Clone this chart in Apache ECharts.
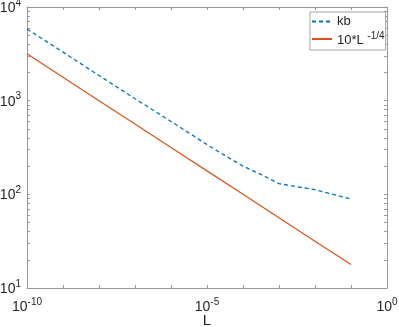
<!DOCTYPE html>
<html><head><meta charset="utf-8">
<script src="https://cdn.jsdelivr.net/npm/echarts@6/dist/echarts.min.js"></script>
<style>html,body{margin:0;padding:0;background:#fff}#c{width:399px;height:327px}</style>
</head><body><div id="c"></div>
<script>
// ---- data ----
const kbL = [1e-10, 1e-9, 1e-8, 1e-7, 1e-6, 1e-5, 3.16e-5, 1e-4, 3.16e-4, 1e-3, 1e-2, 1e-1];
const kbValues = [5820, 3300, 1855, 1050, 600, 340, 259, 200, 163, 130, 112, 89.3];
const refL = [1e-10, 1e-9, 1e-8, 1e-7, 1e-6, 1e-5, 1e-4, 1e-3, 1e-2, 1e-1];
const refValues = [3162, 1778, 1000, 562, 316, 178, 100, 56.2, 31.6, 17.8];
const seriesNames = ['kb', '10*L^-1/4'];
const xTickExponents = [-10, -9, -8, -7, -6, -5, -4, -3, -2, -1, 0];
const xLabelExponents = [-10, -5, 0];
const yDecadeExponents = [1, 2, 3];
const yLabelExponents = [1, 2, 3, 4];
const mantissas = [1, 2, 3, 4, 5, 6, 7, 8, 9];
const xName = 'L';

// ---- build ----
const FONT = 'Liberation Sans, Arial, Helvetica, sans-serif';
const TXT = '#262626';
const AX = '#999999';
const yTicks = [];
yDecadeExponents.forEach(e => mantissas.forEach(m => yTicks.push(e + Math.log10(m))));
yTicks.push(4);

const toLog = (xs, ys) => xs.map((x, i) => [Math.log10(x), Math.log10(ys[i])]);
const rich = {
  b: { fontSize: 14, fontFamily: FONT, color: TXT, verticalAlign: 'bottom', lineHeight: 16 },
  s: { fontSize: 10, fontFamily: FONT, color: TXT, verticalAlign: 'bottom', lineHeight: 16, padding: [0, 0, 7, 0] }
};
const pow = v => '{b|10}{s|' + Math.round(v) + '}';

const baseAxis = {
  type: 'value',
  axisLine: { show: true, onZero: false, lineStyle: { color: AX, width: 1 } },
  axisTick: { show: true, inside: true, length: 3, lineStyle: { color: AX, width: 1 } },
  splitLine: { show: false },
  minorTick: { show: false }
};

const option = {
  animation: false,
  backgroundColor: '#fff',
  textStyle: { fontFamily: FONT },
  grid: { left: 27, right: 12, top: 7, bottom: 39, containLabel: false, outerBoundsMode: 'none' },
  legend: {
    orient: 'vertical', left: 310, top: 12,
    padding: [3, 1, 3, 1], itemGap: 3, itemWidth: 20, itemHeight: 12,
    borderColor: '#a6a6a6', borderWidth: 1, backgroundColor: '#fff',
    itemStyle: { opacity: 0 },
    textStyle: { fontSize: 13, color: TXT, fontFamily: FONT,
      rich: { s: { fontSize: 10, fontFamily: FONT, color: TXT, verticalAlign: 'bottom', padding: [0, 0, 6, 0] },
              m: { fontSize: 13, fontFamily: FONT, color: TXT, verticalAlign: 'bottom' } } },
    formatter: n => n === 'kb' ? 'kb' : '{m|10*L }{s|-1/4}',
    data: seriesNames
  },
  xAxis: [
    Object.assign({}, baseAxis, {
      position: 'bottom', min: -10, max: 0, interval: 1,
      axisTick: Object.assign({}, baseAxis.axisTick, { customValues: xTickExponents }),
      axisLabel: { customValues: xLabelExponents, formatter: pow, rich: rich, margin: 10 },
      name: xName, nameLocation: 'middle', nameGap: 25, nameMoveOverlap: false,
      nameTextStyle: { fontSize: 15, color: TXT, fontFamily: FONT }
    }),
    Object.assign({}, baseAxis, {
      position: 'top', min: -10, max: 0, interval: 1,
      axisTick: Object.assign({}, baseAxis.axisTick, { customValues: xTickExponents }),
      axisLabel: { show: false }
    })
  ],
  yAxis: [
    Object.assign({}, baseAxis, {
      position: 'left', min: 1, max: 4, interval: 1,
      axisTick: Object.assign({}, baseAxis.axisTick, { customValues: yTicks }),
      axisLabel: { customValues: yLabelExponents, formatter: pow, rich: rich, margin: 6 }
    }),
    Object.assign({}, baseAxis, {
      position: 'right', min: 1, max: 4, interval: 1,
      axisTick: Object.assign({}, baseAxis.axisTick, { customValues: yTicks }),
      axisLabel: { show: false }
    })
  ],
  series: [
    { name: seriesNames[0], type: 'line', data: toLog(kbL, kbValues), symbol: 'none',
      lineStyle: { color: '#0072BD', width: 1.3, type: [4, 3] }, itemStyle: { color: '#0072BD' } },
    { name: seriesNames[1], type: 'line', data: toLog(refL, refValues), symbol: 'none',
      lineStyle: { color: '#D95319', width: 1.2 }, itemStyle: { color: '#D95319' } }
  ]
};
const chart = echarts.init(document.getElementById('c'), null, { renderer: 'canvas' });
chart.setOption(option);
</script></body></html>
